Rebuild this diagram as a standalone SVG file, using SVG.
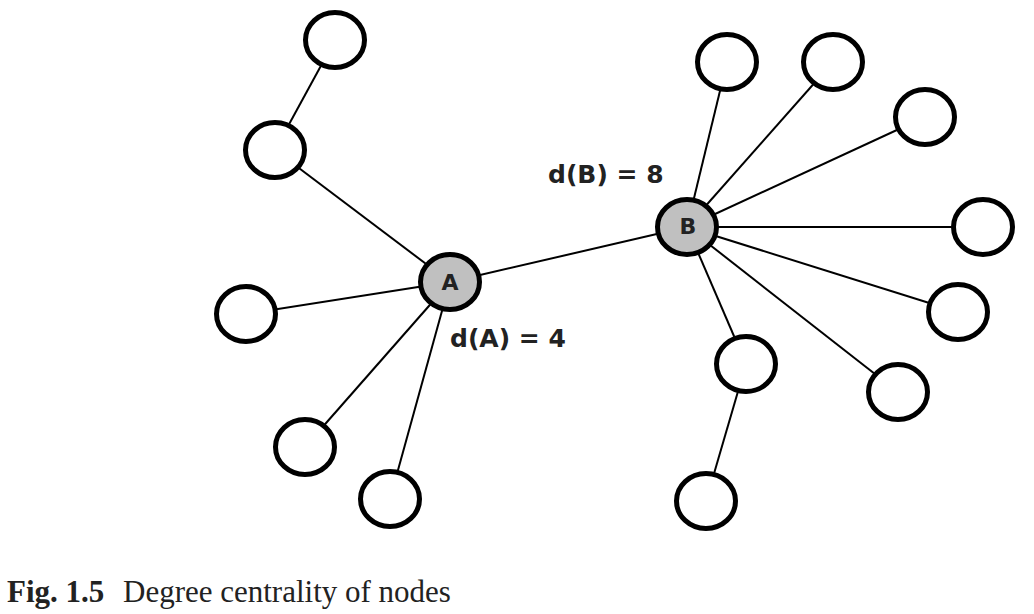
<svg xmlns="http://www.w3.org/2000/svg" width="1034" height="614" viewBox="0 0 1034 614">
  <style>
    .edge { stroke: #000; stroke-width: 2; fill: none; }
    .node { fill: #fff; stroke: #000; stroke-width: 5; }
    .hub { fill: #c0c0c0; stroke: #000; stroke-width: 5; }
    .hub-label { font-family: "DejaVu Sans", sans-serif; font-weight: bold; font-size: 22px; fill: #222; text-anchor: middle; }
    .degree { font-family: "DejaVu Sans", sans-serif; font-weight: bold; font-size: 25px; fill: #222; }
    .caption { font-family: "Liberation Serif", serif; font-size: 31px; fill: #222; }
  </style>
  <rect width="1034" height="614" fill="#fff"/>

  <g id="connectors">
    <line class="edge" x1="450" y1="282" x2="687" y2="227"/>
    <line class="edge" x1="450" y1="282" x2="275" y2="150"/>
    <line class="edge" x1="275" y1="150" x2="335" y2="40"/>
    <line class="edge" x1="450" y1="282" x2="246" y2="314"/>
    <line class="edge" x1="450" y1="282" x2="305" y2="447"/>
    <line class="edge" x1="450" y1="282" x2="390" y2="499"/>
    <line class="edge" x1="687" y1="227" x2="727" y2="62"/>
    <line class="edge" x1="687" y1="227" x2="833" y2="62"/>
    <line class="edge" x1="687" y1="227" x2="925" y2="117"/>
    <line class="edge" x1="687" y1="227" x2="983" y2="227"/>
    <line class="edge" x1="687" y1="227" x2="958" y2="312"/>
    <line class="edge" x1="687" y1="227" x2="898" y2="392"/>
    <line class="edge" x1="687" y1="227" x2="746" y2="364"/>
    <line class="edge" x1="746" y1="364" x2="706" y2="501"/>
  </g>

  <g id="node-a1"><ellipse class="node" cx="335" cy="40" rx="29.5" ry="27.5"/></g>
  <g id="node-a2"><ellipse class="node" cx="275" cy="150" rx="29.5" ry="27.5"/></g>
  <g id="node-a3"><ellipse class="node" cx="246" cy="314" rx="29.5" ry="27.5"/></g>
  <g id="node-a4"><ellipse class="node" cx="305" cy="447" rx="29.5" ry="27.5"/></g>
  <g id="node-a5"><ellipse class="node" cx="390" cy="499" rx="29.5" ry="27.5"/></g>

  <g id="node-b1"><ellipse class="node" cx="727" cy="62" rx="29.5" ry="27.5"/></g>
  <g id="node-b2"><ellipse class="node" cx="833" cy="62" rx="29.5" ry="27.5"/></g>
  <g id="node-b3"><ellipse class="node" cx="925" cy="117" rx="29.5" ry="27.5"/></g>
  <g id="node-b4"><ellipse class="node" cx="983" cy="227" rx="29.5" ry="27.5"/></g>
  <g id="node-b5"><ellipse class="node" cx="958" cy="312" rx="29.5" ry="27.5"/></g>
  <g id="node-b6"><ellipse class="node" cx="898" cy="392" rx="29.5" ry="27.5"/></g>
  <g id="node-b7"><ellipse class="node" cx="746" cy="364" rx="29.5" ry="27.5"/></g>
  <g id="node-b8"><ellipse class="node" cx="706" cy="501" rx="29.5" ry="27.5"/></g>

  <g id="node-A">
    <ellipse class="hub" cx="450" cy="282" rx="29.5" ry="27.5"/>
    <text class="hub-label" x="450" y="290">A</text>
  </g>
  <g id="node-B">
    <ellipse class="hub" cx="687" cy="227" rx="29.5" ry="27.5"/>
    <text class="hub-label" x="688" y="234">B</text>
  </g>

  <g id="labels">
    <text class="degree" x="450" y="347">d(A) = 4</text>
    <text class="degree" x="548" y="183">d(B) = 8</text>
  </g>

  <g id="caption">
    <text class="caption" x="7" y="602"><tspan font-weight="bold">Fig. 1.5</tspan><tspan x="123">Degree centrality of nodes</tspan></text>
  </g>
</svg>
